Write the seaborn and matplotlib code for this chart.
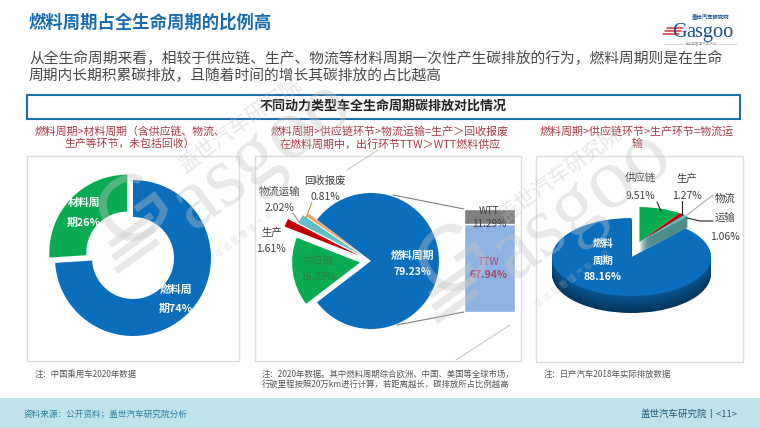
import matplotlib
matplotlib.use("Agg")
import matplotlib.pyplot as plt
import pandas as pd
import seaborn as sns
from matplotlib.patches import Rectangle
from matplotlib.colors import to_rgb

sns.set_theme(style="white")
plt.rcParams['font.family'] = ['Noto Sans CJK SC', 'DejaVu Sans']

# ---------- data ----------
donut_labels = ["燃料周期", "材料周期"]
donut_values = [74, 26]
pie2_labels = ["燃料周期", "回收报废", "物流运输", "生产", "供应链"]
pie2_values = [79.23, 0.81, 2.02, 1.61, 16.33]
bar_labels = ["TTW", "WTT"]
bar_values = [67.94, 11.29]
pie3_labels = ["供应链", "生产", "物流运输", "燃料周期"]
pie3_values = [9.51, 1.27, 1.06, 88.16]

BLUE, GREEN, RED, CYAN, ORANGE = "#0a6ebd", "#0bab52", "#c00000", "#62bfc6", "#f2a25c"
W, H = 760, 428

fig = plt.figure(figsize=(7.6, 4.28), dpi=100, facecolor="white")


def px_axes(x0, y0, x1, y1, z):
    ax = fig.add_axes([x0 / W, 1 - y1 / H, (x1 - x0) / W, (y1 - y0) / H], zorder=z)
    ax.set_facecolor("none")
    ax.axis("off")
    return ax


bg = px_axes(0, 0, W, H, 0)
bg.set_xlim(0, W)
bg.set_ylim(H, 0)
top = px_axes(0, 0, W, H, 5)
top.set_xlim(0, W)
top.set_ylim(H, 0)

# ---------- frame ----------
bg.add_patch(Rectangle((0, 398), W, 30, fc="#c0e2ea", ec="none"))
bg.add_patch(Rectangle((27, 94.5), 713, 24, fc="white", ec="#1c6fa8", lw=1.5))
for (x0, y0, x1, y1) in [(27, 156, 239, 361), (255, 156, 521, 361), (536, 156, 743, 362)]:
    bg.add_patch(Rectangle((x0, y0), x1 - x0, y1 - y0, fc="white", ec="#dcdcdc", lw=1))


def t(x, y, s, size=7.5, color="#404040", ha="center", weight="normal", **kw):
    top.text(x, y, s, fontsize=size, color=color, ha=ha, va="center", fontweight=weight, **kw)


t(29, 23, "燃料周期占全生命周期的比例高", 12.5, "#1a6cb0", "left", "bold")
t(29, 59, "从全生命周期来看，相较于供应链、生产、物流等材料周期一次性产生碳排放的行为，燃料周期则是在生命", 10.64, "#4a4a4a", "left")
t(29, 76, "周期内长期积累碳排放，且随着时间的增长其碳排放的占比越高", 10.64, "#4a4a4a", "left")
t(383, 106, "不同动力类型车全生命周期碳排放对比情况", 9.4, "#222222", "center", "bold")

SUB = "#a83a44"
t(130, 131, "燃料周期>材料周期（含供应链、物流、", 7.85, SUB)
t(130, 144, "生产等环节，未包括回收）", 7.85, SUB)
t(390, 131, "燃料周期>供应链环节>物流运输=生产＞回收报废", 7.9, SUB)
t(390, 144, "在燃料周期中，出行环节TTW＞WTT燃料供应", 7.9, SUB)
t(637, 131, "燃料周期>供应链环节>生产环节=物流运", 7.9, SUB)
t(637, 144, "输", 7.9, SUB)

t(35, 374, "注：中国乘用车2020年数据", 6, "#555555", "left")
t(262, 374, "注：2020年数据。其中燃料周期综合欧洲、中国、美国等全球市场，", 6, "#555555", "left")
t(262, 384, "行驶里程按照20万km进行计算，若距离越长，碳排放所占比例越高", 6, "#555555", "left")
t(544, 374, "注：日产汽车2018年实际排放数据", 6, "#555555", "left")
t(24, 414, "资料来源：公开资料；盖世汽车研究院分析", 6.2, "#2f7fa0", "left", style="italic")
t(738, 414, "盖世汽车研究院丨<11>", 6.8, "#1f5f7a", "right")

# ---------- logo ----------
t(711, 16.5, "盖世汽车研究院", 3.9, "#1c4f8c", weight="bold")
top.text(686.5, 37, "asgoo", fontsize=14.6, family="Liberation Serif", color="#1c4f8c", ha="left", va="baseline")
top.text(672, 37, "G", fontsize=14.5, family="Liberation Serif", color="#1c4f8c", ha="left", va="baseline")
for yy, x0 in [(28, 667), (31, 665), (34, 663)]:
    top.plot([x0, x0 + 16], [yy, yy], color="#d4303a", lw=1.1)
top.plot([664, 684], [44, 44], color="#cccccc", lw=0.5)
top.plot([718, 737], [44, 44], color="#cccccc", lw=0.5)
t(701, 44, "在这里看懂汽车产业", 2.6, "#999999")

# ---------- donut ----------
ax1 = px_axes(0, 0, W, H, 2)
ax1.pie(donut_values, colors=[BLUE, GREEN], startangle=90, counterclock=False,
        radius=78, center=(133, H - 258), explode=[0, 7.8],
        wedgeprops=dict(width=37, edgecolor="none"))
ax1.set_xlim(0, W)
ax1.set_ylim(0, H)
t(84, 203, "材料周", 7.8, "white", weight="bold")
t(84, 223, "期26%", 7.8, "white", weight="bold")
t(176, 290, "燃料周", 7.8, "white", weight="bold")
t(176, 309, "期74%", 7.8, "white", weight="bold")

# ---------- bar-of-pie ----------
ax2 = px_axes(0, 0, W, H, 2)
w2, _ = ax2.pie(pie2_values, colors=[BLUE, ORANGE, CYAN, RED, GREEN], startangle=-142.6,
                radius=68, center=(371, H - 261), explode=[0, 11, 11, 13, 11],
                wedgeprops=dict(edgecolor="none"))
w2[1].set_radius(67)
w2[2].set_radius(71)
w2[3].set_radius(80)
ax2.set_xlim(0, W)
ax2.set_ylim(0, H)

ax_bar = px_axes(464, 209, 515, 312, 2)
sns.barplot(data=pd.DataFrame({"part": ["x"], "v": [bar_values[0]]}), x="part", y="v", ax=ax_bar,
            color="#8db3e2", width=1, saturation=1)
sns.barplot(data=pd.DataFrame({"part": ["x"], "v": [bar_values[1]]}), x="part", y="v", ax=ax_bar,
            color="#7f7f7f", width=1, saturation=1, bottom=bar_values[0])
ax_bar.set_xlim(-.5, .5)
ax_bar.set_ylim(0, sum(bar_values))
ax_bar.axis("off")
top.plot([393, 464], [195, 209], color="#808080", lw=0.8)
top.plot([397, 464], [325, 312], color="#808080", lw=0.8)
top.plot([312, 306], [202, 218], color="#c87830", lw=0.7)
top.plot([293, 299], [213, 222], color="#808080", lw=0.7)

t(325, 181, "回收报废")
t(325, 197, "0.81%")
t(279, 192, "物流运输")
t(279, 208, "2.02%")
t(272, 232, "生产")
t(271, 249, "1.61%")
t(318, 261, "供应链", 7.5, "#2f7f4c")
t(318, 277, "16.33%", 7.5, "#2f7f4c")
t(412, 256, "燃料周期", 7.8, "white", weight="bold")
t(412, 272, "79.23%", 7.5, "white", weight="bold")
t(489, 211, "WTT", 7.2, "#404040")
t(489, 224, "11.29%", 7.2, "#404040")
t(489, 262, "TTW", 7.5, "#a84a70")
t(489, 275, "67.94%", 7.5, "#a84a70", weight="bold")

# ---------- pseudo-3D pie ----------
bx0, by0, bx1, by1 = 540, 190, 730, 330
cx, cy, rx, ry, depth = 631.5, 257, 79.5, 39, 17
ax3 = px_axes(bx0, by0, bx1, by1, 2)


def shade(c, f):
    return tuple(v * f for v in to_rgb(c))


def pie3_layer(offset, colors, visible, center, radius):
    wedges, _ = ax3.pie(pie3_values, colors=colors, startangle=90, counterclock=False,
                        radius=radius, center=(center[0], center[1] - offset / ry),
                        wedgeprops=dict(edgecolor="none"))
    for w, vis in zip(wedges, visible):
        w.set_visible(vis)


base = [GREEN, RED, CYAN, BLUE]
for k in range(depth, -1, -1):
    f = 1 if k == 0 else 0.78 - 0.3 * k / depth
    cols = [shade(c, f) for c in base]
    pie3_layer(k, cols, [False, False, False, True], (0, 0), 1)
for k in range(11, -1, -1):
    cols = base if k == 0 else ["#4f8c8e"] * 4
    pie3_layer(k, cols, [k == 0, True, True, False], (0.1, 0.38), 0.9)
ax3.set_aspect("auto")
ax3.set_xlim((bx0 - cx) / rx, (bx1 - cx) / rx)
ax3.set_ylim((cy - by1) / ry, (cy - by0) / ry)

t(640, 178, "供应链")
t(687, 178, "生产")
t(640, 196, "9.51%")
t(687, 196, "1.27%")
t(725, 199, "物流")
t(725, 218, "运输")
t(725, 237, "1.06%")
t(603, 244, "燃料", 7.5, "white", weight="bold")
t(603, 261, "周期", 7.5, "white", weight="bold")
t(603, 277, "88.16%", 7.5, "white", weight="bold")
top.plot([657, 661], [202, 211], color="#222222", lw=0.8)
top.plot([682, 682], [201, 215], color="#222222", lw=0.8)
top.plot([687, 713], [215, 195], color="#999999", lw=0.7)
top.plot([687, 700, 713], [218, 221, 221], color="#222222", lw=0.8)

# ---------- watermark ----------
WMC = "#c4c4c4"
WM = dict(color=WMC, alpha=0.38, ha="center", va="center", rotation=36,
          rotation_mode="anchor", zorder=10)
for dx, dy in [(0, 0), (320, 50)]:
    top.text(262 + dx, 155 + dy, "asgoo", fontsize=62, family="Liberation Serif", **WM)
    top.text(136 + dx, 212 + dy, "G", fontsize=66, family="Liberation Sans", **WM)
    for sx, sy in [(110, 245), (113, 258), (116, 271)]:
        top.plot([sx + dx, sx + 42 + dx], [sy + dy, sy - 30 + dy], color=WMC, alpha=0.38, lw=5,
                 solid_capstyle="butt", zorder=10)
    top.text(240 + dx, 125 + dy, "盖世汽车研究院", fontsize=15, **WM)
    top.text(252 + dx, 228 + dy, "在 这 里 看 懂 汽 车 产 业", fontsize=6, **WM)
top.plot([347, 378], [170, 150], color="#bbbbbb", lw=0.6)
top.plot([456, 510], [360, 325], color="#bbbbbb", lw=0.6)

fig.savefig("out.png", dpi=100)
